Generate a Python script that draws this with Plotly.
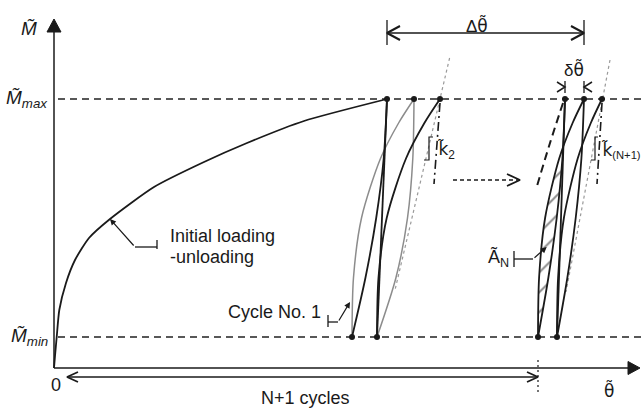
import plotly.graph_objects as go

# ---------------- data (diagram units: theta to the right, M upward) ----------------
M_MAX = 269
M_MIN = 31

# initial loading curve
init_theta = [0, 1, 2.7, 5.3, 12, 21, 35, 56, 100, 150, 193, 250, 333]
init_M = [0, 12, 31, 58, 85, 108, 130, 149, 181, 206, 225, 247, 269]

# M levels at which the loop curves were read
load_M = [31, 90.5, 150, 209.5, 245, 269]
unload_M = [269, 209.5, 150, 90.5, 31]

# first cycles (group 1)
g1_peaks = [333, 360, 386]
g1_valleys = [298, 323]
g1_unloadA = [333, 329.7, 322.2, 311.5, 298]          # black
g1_load1 = [298, 299.5, 307.5, 326.5, 344.6, 360]     # grey
g1_unloadB = [360, 358.8, 353.5, 342, 323]            # grey
g1_load2 = [323, 324.5, 332.7, 352, 370.4, 386]       # black

# cycle N / N+1 (group 2)
g2_peaks = [511, 530, 548]
g2_valleys = [484, 503]
g2_unloadN = [511, 508.4, 502.7, 494.4, 484]
g2_loadN = [484, 485.1, 491.1, 505.2, 518.6, 530]
g2_unloadN1 = [530, 527.4, 521.7, 513.4, 503]
g2_loadN1 = [503, 504.1, 509.9, 523.7, 536.8, 548]

# hatched area A_N (load N up to crossing, back down along unload N)
hatch_theta = [484, 485.1, 491.1, 505.2, 509.2, 508.4, 502.7, 494.4, 484]
hatch_M = [31, 90.5, 150, 209.5, 221.4, 209.5, 150, 90.5, 31]

# stiffness tangents (dashed grey)
k2_theta = [395.6, 341]
k2_M = [310, 78]
kN_theta = [556, 512]
kN_M = [308, 76]

# vertical dash-dot references under the last peak
g1_ref_theta = [386, 380]
g2_ref_theta = [548, 543]
ref_M = [265, 184]

# slope brackets
g1_br_theta = [379, 375, 375, 370]
g2_br_theta = [544, 541, 541, 537]
br_M = [231, 231, 208, 208]

# dashed arc of previous cycles
arc_theta = [509, 496, 482.7]
arc_M = [265, 225, 181]

# dimension lines
DTH_M = 335
dth_theta = [333, 530]
dlt_M = 281
cyc_M = -9
cyc_theta = [13, 484]

BLACK = "#1a1a1a"
GREY = "#8c8c8c"
FONT = "Liberation Sans, Arial, sans-serif"

fig = go.Figure()


def line(x, y, color=BLACK, width=1.8, dash="solid", shape="linear", smoothing=1.0):
    fig.add_trace(go.Scatter(
        x=x, y=y, mode="lines", hoverinfo="skip", showlegend=False,
        line=dict(color=color, width=width, dash=dash, shape=shape,
                  smoothing=smoothing if shape == "spline" else None)))


def poly(x, y, color=BLACK):
    fig.add_trace(go.Scatter(x=x, y=y, mode="lines", fill="toself", fillcolor=color,
                             line=dict(color=color, width=1), hoverinfo="skip",
                             showlegend=False))


# hatched area
fig.add_trace(go.Scatter(
    x=hatch_theta, y=hatch_M, mode="lines", fill="toself",
    line=dict(width=0, shape="spline", smoothing=0.8, color="rgba(0,0,0,0)"),
    fillpattern=dict(shape="/", size=14, solidity=0.14, fgcolor=BLACK, bgcolor="white"),
    fillcolor="white", hoverinfo="skip", showlegend=False))

# reference levels
line([4, 587], [M_MAX, M_MAX], width=1.5, dash="7px,5px", color="#222")
line([4, 587], [M_MIN, M_MIN], width=1.5, dash="7px,5px", color="#222")

# axes
line([0, 0], [0, 337], width=1.5)
poly([-7, 0, 7, -7], [336, 349, 336, 336])
line([0, 575], [0, 0], width=1.5)
poly([574, 586, 574, 574], [6.5, 0, -6.5, 6.5])

# initial loading
line(init_theta, init_M, width=1.8, shape="spline", smoothing=0.6)

# tangents
line(k2_theta, k2_M, color="#9a9a9a", width=1.2, dash="3px,3px")
line(kN_theta, kN_M, color="#9a9a9a", width=1.2, dash="3px,3px")

# group 1 loops
line(g1_load1, load_M, color=GREY, width=1.5, shape="spline", smoothing=0.8)
line(g1_unloadB, unload_M, color=GREY, width=1.5, shape="spline", smoothing=0.8)
line(g1_unloadA, unload_M, shape="spline", smoothing=0.8)
line(g1_load2, load_M, shape="spline", smoothing=0.8)
line([g1_peaks[0], g1_valleys[1]], [M_MAX, M_MIN])

# group 2 loops
line(g2_unloadN, unload_M, shape="spline", smoothing=0.8)
line(g2_loadN, load_M, shape="spline", smoothing=0.8)
line(g2_unloadN1, unload_M, shape="spline", smoothing=0.8)
line(g2_loadN1, load_M, shape="spline", smoothing=0.8)
line([g2_peaks[0], g2_valleys[1]], [M_MAX, M_MIN])

# dashed arc of previous cycles
line(arc_theta, arc_M, width=2, dash="8px,5px", shape="spline")

# dash-dot references and brackets
line(g1_ref_theta, ref_M, width=1.6, dash="9px,4px,2px,4px")
line(g2_ref_theta, ref_M, width=1.6, dash="9px,4px,2px,4px")
line(g1_br_theta, br_M, width=1.2)
line(g2_br_theta, br_M, width=1.2)

# dots
fig.add_trace(go.Scatter(
    x=g1_peaks + g2_peaks + g1_valleys + g2_valleys,
    y=[M_MAX] * 6 + [M_MIN] * 4, mode="markers", hoverinfo="skip", showlegend=False,
    marker=dict(color=BLACK, size=6)))

# Delta theta dimension
line([dth_theta[0], dth_theta[0]], [DTH_M + 13, DTH_M - 12], width=1.3)
line([dth_theta[1], dth_theta[1]], [DTH_M + 13, DTH_M - 12], width=1.3)
line(dth_theta, [DTH_M, DTH_M], width=1.3)
line([dth_theta[0] + 13, dth_theta[0], dth_theta[0] + 13], [DTH_M + 7, DTH_M, DTH_M - 7], width=2)
line([dth_theta[1] - 13, dth_theta[1], dth_theta[1] - 13], [DTH_M + 7, DTH_M, DTH_M - 7], width=2)

# delta theta small dimension
line([g2_peaks[0], g2_peaks[0]], [dlt_M + 6, dlt_M - 6], width=1.3)
line([g2_peaks[1], g2_peaks[1]], [dlt_M + 6, dlt_M - 6], width=1.3)
line([g2_peaks[0] - 8, g2_peaks[0], g2_peaks[0] - 8], [dlt_M + 5, dlt_M, dlt_M - 5], width=1.5)
line([g2_peaks[1] + 8, g2_peaks[1], g2_peaks[1] + 8], [dlt_M + 5, dlt_M, dlt_M - 5], width=1.5)

# dashed arrow between groups
line([399, 465], [188, 188], width=1.3, dash="4px,3px")
line([453, 466, 453], [194, 188, 182], width=1.8)

# N+1 cycles dimension
line(cyc_theta, [cyc_M, cyc_M], width=1.6)
line([cyc_theta[0] + 11, cyc_theta[0], cyc_theta[0] + 11], [cyc_M + 5, cyc_M, cyc_M - 5], width=1.8)
line([cyc_theta[1] - 11, cyc_theta[1], cyc_theta[1] - 11], [cyc_M + 5, cyc_M, cyc_M - 5], width=1.8)
line([cyc_theta[1], cyc_theta[1]], [8, -25], width=1.2, dash="2px,3px")

# leaders
line([103, 103], [128, 119], width=1.3)
line([103, 81], [121, 121], width=1.3)
line([274, 274], [53, 41], width=1.3)
line([274, 284], [46, 46], width=1.3)
line([460, 460], [117, 101], width=1.3)
line([460, 479], [109, 109], width=1.3)

ann = []


def arrow(x, y, ax, ay):
    ann.append(dict(x=x, y=y, ax=ax, ay=ay, xref="x", yref="y", axref="x", ayref="y",
                    text="", showarrow=True, arrowhead=2, arrowsize=1, arrowwidth=1.2,
                    arrowcolor=BLACK, standoff=0))


arrow(56, 149, 81, 121)
arrow(296, 66, 284, 46)
arrow(492.7, 121, 479, 109)


def text(x, y, s, size=18, xanchor="center", yanchor="middle"):
    ann.append(dict(x=x, y=y, xref="x", yref="y", text=s, showarrow=False,
                    xanchor=xanchor, yanchor=yanchor,
                    font=dict(family=FONT, size=size, color=BLACK)))


def dv(s):
    # glyph + combining tilde, in a font with proper mark positioning
    return "<span style='font-family:DejaVu Sans'>" + s + "\u0303</span>"


text(-25, 340, "<i>M\u0303</i>", size=19)
text(-4, 269, "<i>M\u0303<sub>max</sub></i>", size=19, xanchor="right")
text(-4, 31, "<i>M\u0303<sub>min</sub></i>", size=19, xanchor="right")
text(2, -17, "0")
text(251, -30, "N+1 cycles")
text(555, -22, dv("\u03b8"), size=17)
text(423, 343, "\u0394" + dv("\u03b8"), size=17)
text(520, 299, "\u03b4" + dv("\u03b8"), size=17)
text(382, 218, dv("k") + "<sub>2</sub>", size=17, xanchor="left")
text(546, 218, dv("k") + "<span style='font-size:16px'><sub>(N+1)</sub></span>",
     size=17, xanchor="left")
text(432, 110, "\u00c3<sub>N</sub>", xanchor="left")
text(269, 56, "Cycle No. 1", xanchor="right")
text(114, 132, "Initial loading", xanchor="left")
text(114, 111, "-unloading", xanchor="left")

fig.update_layout(
    width=641, height=414, margin=dict(l=0, r=0, t=0, b=0),
    paper_bgcolor="white", plot_bgcolor="white", annotations=ann,
    xaxis=dict(range=[-54, 587], visible=False, fixedrange=True),
    yaxis=dict(range=[-46, 368], visible=False, fixedrange=True),
)

fig.write_html("out.html", config={"displayModeBar": False, "staticPlot": True},
               post_script="document.body.style.margin='0px';"
                           "document.body.style.overflow='hidden';")
